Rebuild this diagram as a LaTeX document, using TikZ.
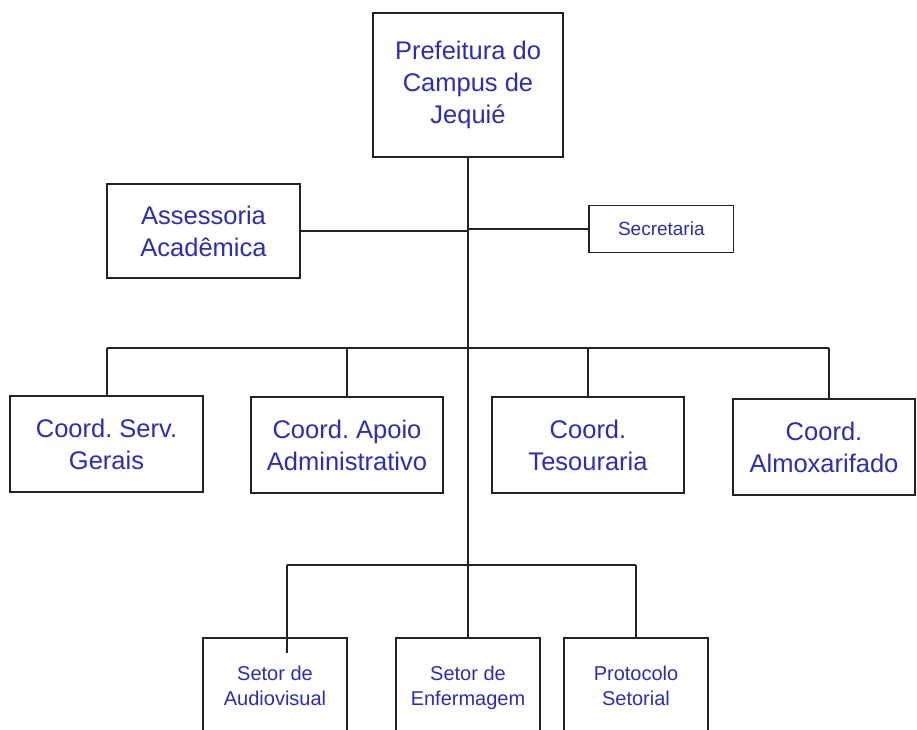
\documentclass[tikz,border=0pt]{standalone}
\usepackage{fontspec}
\setmainfont{Liberation Sans}
\frenchspacing
\definecolor{txtblue}{RGB}{45,45,180}
\definecolor{linegray}{RGB}{35,35,35}
\begin{document}
\begin{tikzpicture}[x=1pt,y=1pt,
  box/.style={draw=linegray, line width=1.2pt, rectangle, inner sep=0pt, align=center, text=txtblue},
  bigtxt/.style={font=\fontsize{25.5}{32}\selectfont},
  smalltxt/.style={font=\fontsize{20}{25}\selectfont},
  conn/.style={draw=linegray, line width=1.2pt}]
\useasboundingbox (0,0) rectangle (917,729);
\clip (0,0) rectangle (917,729);
% top
\node[box,bigtxt,minimum width=190pt,minimum height=144pt] (pref) at (468,644) {Prefeitura do\\Campus de\\Jequié};
\node[box,bigtxt,minimum width=193pt,minimum height=94pt] (assess) at (203.5,498) {Assessoria\\Acadêmica};
\node[box,font=\fontsize{19}{23}\selectfont,minimum width=144.6pt,minimum height=47.6pt] (secr) at (661.3,500) {Secretaria};
% coordinations
\node[box,bigtxt,minimum width=193pt,minimum height=96pt] (serv) at (106.5,285) {Coord. Serv.\\Gerais};
\node[box,bigtxt,minimum width=192pt,minimum height=96pt] (apoio) at (347,284) {Coord. Apoio\\Administrativo};
\node[box,bigtxt,minimum width=192pt,minimum height=96pt] (tes) at (588,284) {Coord.\\Tesouraria};
\node[box,bigtxt,minimum width=182pt,minimum height=96pt] (almox) at (824,282) {Coord.\\Almoxarifado};
% sectors
\node[box,smalltxt,minimum width=144pt,minimum height=95pt] (audio) at (275,43.5) {Setor de\\Audiovisual};
\node[box,smalltxt,minimum width=144pt,minimum height=95pt] (enf) at (468,43.5) {Setor de\\\raisebox{0pt}[\height][0pt]{Enfermagem}};
\node[box,smalltxt,minimum width=144pt,minimum height=95pt] (prot) at (636,43.5) {Protocolo\\Setorial};
% coordinates
\coordinate (trunkA) at (468,498);
\coordinate (trunkS) at (468,500);
\coordinate (b1) at (107,381);
\coordinate (b2) at (347,381);
\coordinate (b3) at (588,381);
\coordinate (b4) at (829,381);
\coordinate (s1) at (287,164);
\coordinate (s3) at (636,164);
\coordinate (s1end) at (287,76);
% connectors
\draw[conn] (pref.south) -- (enf.north);
\draw[conn] (assess.east) -- (trunkA);
\draw[conn] (trunkS) -- (secr.west);
\draw[conn] (b1) -- (b4);
\draw[conn] (b1) -- (b1 |- serv.north);
\draw[conn] (b2) -- (apoio.north);
\draw[conn] (b3) -- (tes.north);
\draw[conn] (b4) -- (b4 |- almox.north);
\draw[conn] (s1) -- (s3);
\draw[conn] (s1) -- (s1end);
\draw[conn] (s3) -- (prot.north);
\end{tikzpicture}
\end{document}
